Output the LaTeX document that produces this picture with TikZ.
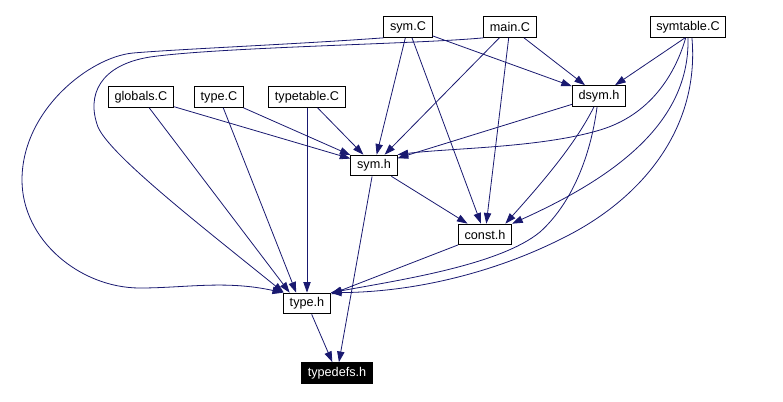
\documentclass[tikz,border=0pt]{standalone}
\usepackage{fontspec}
\setmainfont{Liberation Sans}
\usetikzlibrary{arrows.meta}
\definecolor{Edgecolor}{RGB}{25,25,112}

\begin{document}
\begin{tikzpicture}[
  x=0.75pt, y=-0.75pt,
  font=\fontsize{9.5}{10}\selectfont,
  file/.style={draw, fill=white, line width=0.75pt, minimum height=15.5pt,
               inner xsep=4.6pt, inner ysep=0pt},
  sel/.style={file, fill=black, text=white},
  arr/.style={-{Triangle[length=8pt, width=5.5pt]}, draw=Edgecolor,
              line width=0.6pt}
]
\useasboundingbox (0,0) rectangle (783,401);

%% ---- FILA SUPERIOR: fuentes .C ----
\node[file] (symC)      at (408,27) {sym.C};
\node[file] (mainC)     at (510,27) {main.C};
\node[file] (symtableC) at (688,27) {symtable.C};

\node[file] (globalsC)   at (141,97) {globals.C};
\node[file] (typeC)      at (219,97) {type.C};
\node[file] (typetableC) at (307,97) {typetable.C};
\node[file] (dsymh)      at (599,96) {dsym.h};

%% ---- cabeceras ----
\node[file] (symh)      at (374,165.5) {sym.h};
\node[file] (consth)    at (485,234.5) {const.h};
\node[file] (typeh)     at (307,303.5) {type.h};
\node[sel]  (typedefsh) at (337,373)   {typedefs.h};

%% ---- aristas rectas ----
\draw[arr] (symC)  -- (symh);
\draw[arr] (symC)  -- (consth);
\draw[arr] (symC)  -- (dsymh);
\draw[arr] (mainC) -- (symh);
\draw[arr] (mainC) -- (consth);
\draw[arr] (mainC) -- (dsymh);
\draw[arr] (symtableC.255) -- (dsymh);

\draw[arr] (globalsC)   -- (symh);
\draw[arr] (typeC)      -- (symh);
\draw[arr] (typetableC) -- (symh);
\draw[arr] (globalsC)   -- (typeh.148);
\draw[arr] (typeC)      -- (typeh.135);
\draw[arr] (typetableC) -- (typeh);

\draw[arr] (dsymh)  -- (symh);
\draw[arr] (symh)   -- (consth);
\draw[arr] (symh)   -- (typedefsh);
\draw[arr] (consth) -- (typeh);
\draw[arr] (typeh)  -- (typedefsh);

%% ---- curvas por la izquierda ----
\draw[arr] (symC.south west) .. controls (300,44) and (180,49) .. (133,53)
  .. controls (90,57) and (22,110) .. (22,180)
  .. controls (22,240) and (80,288) .. (140,288)
  .. controls (185,288) and (225,280) .. (typeh.north west);
\draw[arr] (mainC.south west) .. controls (420,44) and (220,47) .. (150,57)
  .. controls (100,65) and (86,95) .. (98,127)
  .. controls (110,155) and (200,225) .. (typeh.155);

%% ---- curvas por la derecha ----
\draw[arr] (symtableC.258) .. controls (675,75) and (650,115) .. (600,130)
  .. controls (540,148) and (450,148) .. (symh.north east);
\draw[arr] (symtableC.south) .. controls (690,120) and (620,175) .. (consth.north east);
\draw[arr] (symtableC.290) .. controls (700,130) and (640,200) .. (563,238)
  .. controls (500,270) and (420,292) .. (typeh.north east);
\draw[arr] (dsymh.245) .. controls (575,145) and (540,185) .. (consth.28);
\draw[arr] (dsymh.260) .. controls (590,160) and (570,205) .. (540,232)
  .. controls (500,265) and (400,280) .. (typeh.north east);

\end{tikzpicture}
\end{document}
